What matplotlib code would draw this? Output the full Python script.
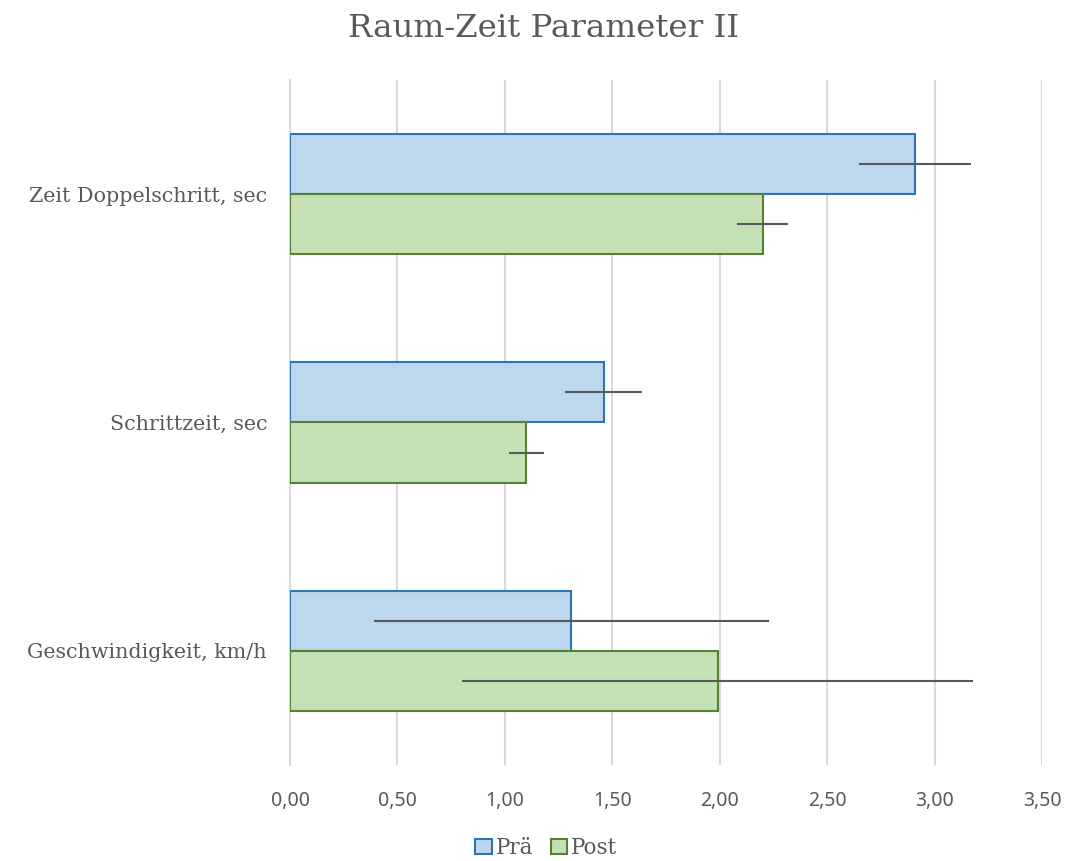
import numpy as np
import matplotlib
matplotlib.use("Agg")
import matplotlib.pyplot as plt
from matplotlib.patches import Patch

# Data
categories = ["Geschwindigkeit, km/h", "Schrittzeit, sec", "Zeit Doppelschritt, sec"]
pre_values = [1.31, 1.46, 2.91]
pre_errors = [0.92, 0.18, 0.26]
post_values = [1.99, 1.10, 2.20]
post_errors = [1.19, 0.08, 0.12]
x_ticks = [0.0, 0.5, 1.0, 1.5, 2.0, 2.5, 3.0, 3.5]

PRE_FILL, PRE_EDGE = "#BDD7EE", "#2E75B6"
POST_FILL, POST_EDGE = "#C5E0B4", "#548235"
TEXT = "#595959"
GRID = "#D9D9D9"
SERIF = ["DejaVu Serif"]

fig = plt.figure(figsize=(10.67, 8.61), dpi=100)
ax = fig.add_axes([0.2718, 0.1115, 0.7048, 0.7956])

y = np.arange(len(categories))
h = 0.263
ax.barh(y + h / 2, pre_values, h, color=PRE_FILL, edgecolor=PRE_EDGE, linewidth=1.5, zorder=3)
ax.barh(y - h / 2, post_values, h, color=POST_FILL, edgecolor=POST_EDGE, linewidth=1.5, zorder=3)
ax.errorbar(pre_values, y + h / 2, xerr=pre_errors, fmt="none", ecolor="#595959",
            elinewidth=1.5, capsize=0, zorder=4)
ax.errorbar(post_values, y - h / 2, xerr=post_errors, fmt="none", ecolor="#595959",
            elinewidth=1.5, capsize=0, zorder=4)

ax.set_xlim(0, 3.5)
ax.set_ylim(-0.5, 2.5)
ax.set_xticks(x_ticks)
ax.set_xticklabels([f"{v:.2f}".replace(".", ",") for v in x_ticks],
                   fontsize=14, color=TEXT, family="Noto Sans")
ax.set_yticks(y)
ax.set_yticklabels(categories, fontsize=14.9, color=TEXT, family=SERIF)
ax.tick_params(axis="both", length=0)
ax.tick_params(axis="x", pad=19)
ax.tick_params(axis="y", pad=16.5)
ax.grid(axis="x", color=GRID, linewidth=1.5, zorder=0)
for s in ["top", "right", "bottom"]:
    ax.spines[s].set_visible(False)
ax.spines["left"].set_color(GRID)
ax.spines["left"].set_linewidth(1.5)

fig.text(0.509, 0.967, "Raum-Zeit Parameter II", ha="center", va="center",
         fontsize=23.4, color=TEXT, family=SERIF)

handles = [Patch(facecolor=PRE_FILL, edgecolor=PRE_EDGE, linewidth=1.5, label="Prä"),
           Patch(facecolor=POST_FILL, edgecolor=POST_EDGE, linewidth=1.5, label="Post")]
leg = fig.legend(handles=handles, loc="center", bbox_to_anchor=(0.512, 0.015), ncol=2,
                 frameon=False, handlelength=0.75, handleheight=0.75, handletextpad=0.2,
                 columnspacing=0.8, prop={"family": SERIF, "size": 15.5})
for t in leg.get_texts():
    t.set_color(TEXT)

fig.savefig("out.png", dpi=100)
